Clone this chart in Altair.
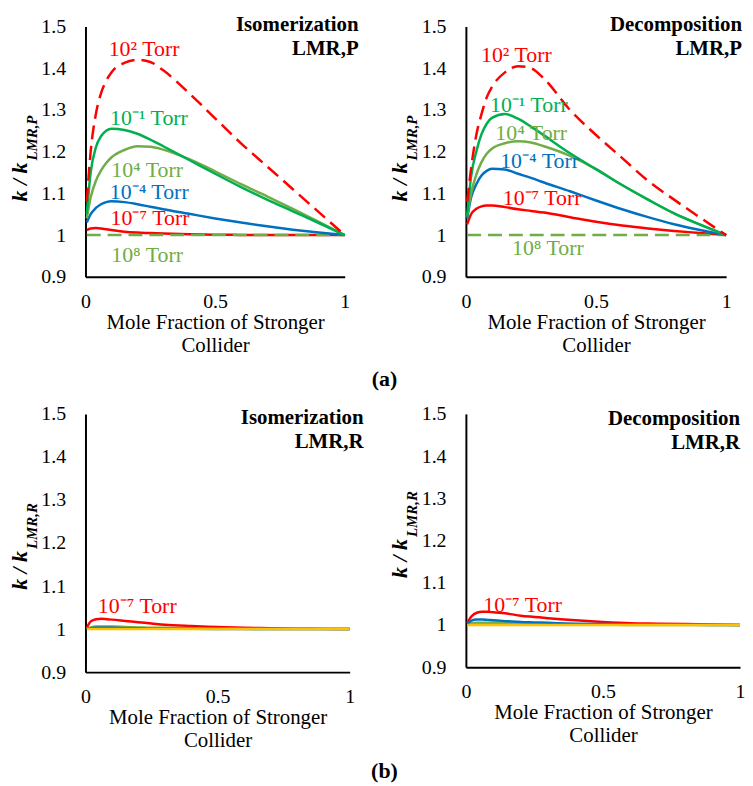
import altair as alt
import pandas as pd

FONT = "Liberation Serif, Times New Roman, serif"
RED = "#FF0000"
GREEN = "#00B050"
OLIVE = "#70AD47"
BLUE = "#0070C0"
YELLOW = "#FFC000"

# Mole fraction of stronger collider (sample points)
X = [0.005, 0.02, 0.04, 0.06, 0.08, 0.1, 0.15, 0.2, 0.25, 0.3, 0.4, 0.5, 0.6, 0.7, 0.8, 0.9, 1.0]

# (a) Isomerization, LMR,P
iso_p_1e2 = [1.08, 1.20, 1.29, 1.34, 1.37, 1.39, 1.413, 1.42, 1.415, 1.395, 1.34, 1.28, 1.22, 1.165, 1.11, 1.055, 1.0]
iso_p_1em1 = [1.05, 1.15, 1.21, 1.237, 1.25, 1.255, 1.252, 1.243, 1.229, 1.213, 1.18, 1.147, 1.115, 1.085, 1.057, 1.029, 1.0]
iso_p_1e4 = [1.04, 1.09, 1.13, 1.155, 1.173, 1.186, 1.204, 1.213, 1.212, 1.205, 1.182, 1.153, 1.122, 1.093, 1.063, 1.032, 1.0]
iso_p_1em4 = [1.03, 1.05, 1.065, 1.074, 1.079, 1.081, 1.079, 1.074, 1.068, 1.062, 1.051, 1.04, 1.03, 1.021, 1.013, 1.006, 1.0]
iso_p_1em7 = [1.012, 1.016, 1.017, 1.016, 1.014, 1.012, 1.008, 1.006, 1.005, 1.004, 1.002, 1.001, 1.0005, 1.0, 1.0, 1.0, 1.0]
iso_p_1e8 = [1.0] * 17

# (a) Decomposition, LMR,P
dec_p_1e2 = [1.08, 1.16, 1.24, 1.29, 1.33, 1.355, 1.39, 1.405, 1.40, 1.375, 1.30, 1.24, 1.185, 1.13, 1.085, 1.042, 1.0]
dec_p_1em1 = [1.045, 1.14, 1.2, 1.242, 1.267, 1.281, 1.29, 1.279, 1.26, 1.239, 1.196, 1.158, 1.12, 1.085, 1.052, 1.025, 1.0]
dec_p_1e4 = [1.045, 1.1, 1.145, 1.175, 1.195, 1.207, 1.22, 1.225, 1.222, 1.213, 1.19, 1.158, 1.12, 1.085, 1.052, 1.025, 1.0]
dec_p_1em4 = [1.04, 1.09, 1.122, 1.143, 1.154, 1.159, 1.157, 1.147, 1.137, 1.126, 1.105, 1.083, 1.062, 1.043, 1.026, 1.012, 1.0]
dec_p_1em7 = [1.026, 1.05, 1.063, 1.069, 1.071, 1.071, 1.067, 1.062, 1.058, 1.054, 1.043, 1.032, 1.023, 1.016, 1.01, 1.005, 1.0]
dec_p_1e8 = [1.0] * 17

# (b) Isomerization, LMR,R
iso_r_red = [1.003, 1.018, 1.023, 1.024, 1.023, 1.022, 1.019, 1.016, 1.013, 1.01, 1.007, 1.005, 1.003, 1.002, 1.001, 1.0005, 1.0]
iso_r_green = [1.001, 1.004, 1.006, 1.006, 1.006, 1.006, 1.005, 1.004, 1.003, 1.003, 1.002, 1.001, 1.0005, 1.0, 1.0, 1.0, 1.0]
iso_r_blue = [1.001, 1.002, 1.003, 1.003, 1.003, 1.003, 1.002, 1.002, 1.001, 1.001, 1.0005, 1.0, 1.0, 1.0, 1.0, 1.0, 1.0]
iso_r_yellow = [1.0] * 17

# (b) Decomposition, LMR,R
dec_r_red = [1.005, 1.02, 1.029, 1.031, 1.031, 1.03, 1.027, 1.022, 1.019, 1.016, 1.011, 1.007, 1.004, 1.003, 1.002, 1.001, 1.0]
dec_r_blue = [1.003, 1.01, 1.013, 1.013, 1.012, 1.011, 1.009, 1.007, 1.006, 1.005, 1.003, 1.002, 1.0015, 1.001, 1.0005, 1.0, 1.0]
dec_r_green = [1.001, 1.004, 1.005, 1.005, 1.005, 1.005, 1.004, 1.003, 1.003, 1.002, 1.001, 1.001, 1.0, 1.0, 1.0, 1.0, 1.0]
dec_r_yellow = [1.0] * 17

# Curve labels
P_LABELS = ["10² Torr", "10⁻¹ Torr", "10⁴ Torr", "10⁻⁴ Torr", "10⁻⁷ Torr", "10⁸ Torr"]
P_LABEL_COLORS = [RED, GREEN, OLIVE, BLUE, RED, OLIVE]
iso_p_label_x = [0.226, 0.245, 0.238, 0.246, 0.249, 0.238]
iso_p_label_y = [1.445, 1.281, 1.157, 1.102, 1.040, 0.952]
dec_p_label_x = [0.194, 0.242, 0.251, 0.283, 0.293, 0.315]
dec_p_label_y = [1.432, 1.312, 1.244, 1.178, 1.088, 0.968]
R_LABELS = ["10⁻⁷ Torr"]
R_LABEL_COLORS = [RED]
iso_r_label_x = [0.196]
iso_r_label_y = [1.053]
dec_r_label_x = [0.207]
dec_r_label_y = [1.046]

X_TICKS = [0, 0.5, 1]
Y_TICKS = [0.9, 1.0, 1.1, 1.2, 1.3, 1.4, 1.5]
X_TITLE = ["Mole Fraction of Stronger", "Collider"]


def enc_x():
    return alt.X("x:Q", scale=alt.Scale(domain=[0, 1], nice=False),
                 axis=alt.Axis(values=X_TICKS, format="~g", title=X_TITLE))


def enc_y():
    return alt.Y("y:Q", scale=alt.Scale(domain=[0.9, 1.5], nice=False, zero=False),
                 axis=alt.Axis(values=Y_TICKS, format=".1~f", title=None))


def panel(series, lab_text, lab_colors, lab_x, lab_y, title1, title2, sub,
          w, h, t_x, t_y, yt_end, extra=None, extra_y=355):
    layers = []
    for vals, color, dashed in series:
        df = pd.DataFrame({"x": X, "y": vals})
        kw = dict(color=color, strokeWidth=2.5, interpolate="monotone")
        if dashed:
            kw["strokeDash"] = [14, 7]
        layers.append(alt.Chart(df).mark_line(**kw).encode(x=enc_x(), y=enc_y()))
    ldf = pd.DataFrame({"x": lab_x, "y": lab_y, "t": lab_text, "c": lab_colors})
    layers.append(alt.Chart(ldf).mark_text(font=FONT, fontSize=22, align="center",
                                           baseline="middle").encode(
        x=enc_x(), y=enc_y(), text="t:N", color=alt.Color("c:N", scale=None)))
    tdf = pd.DataFrame({"t": [title1]})
    layers.append(alt.Chart(tdf).mark_text(font=FONT, fontSize=21, fontWeight="bold",
                                           align="right", baseline="middle", color="black").encode(
        x=alt.value(t_x), y=alt.value(t_y), text="t:N"))
    tdf2 = pd.DataFrame({"t": [title2]})
    layers.append(alt.Chart(tdf2).mark_text(font=FONT, fontSize=21, fontWeight="bold",
                                            align="right", baseline="middle", color="black").encode(
        x=alt.value(t_x), y=alt.value(t_y + 24), text="t:N"))
    # y-axis title: k / k_{LMR,x}
    ydf = pd.DataFrame({"t": ["k / k"]})
    layers.append(alt.Chart(ydf).mark_text(font=FONT, fontSize=22, fontWeight="bold",
                                           fontStyle="italic", angle=270, align="right",
                                           baseline="middle", color="black").encode(
        x=alt.value(-66), y=alt.value(yt_end), text="t:N"))
    sdf = pd.DataFrame({"t": [sub]})
    layers.append(alt.Chart(sdf).mark_text(font=FONT, fontSize=15, fontWeight="bold",
                                           fontStyle="italic", angle=270, align="left",
                                           baseline="middle", color="black").encode(
        x=alt.value(-54), y=alt.value(yt_end - 2), text="t:N"))
    if extra is not None:
        edf = pd.DataFrame({"t": [extra]})
        layers.append(alt.Chart(edf).mark_text(font=FONT, fontSize=22, fontWeight="bold",
                                               align="center", baseline="middle",
                                               color="black").encode(
            x=alt.value(301), y=alt.value(extra_y), text="t:N"))
    return alt.layer(*layers).properties(width=w, height=h)


p1 = panel([(iso_p_1em7, RED, False), (iso_p_1e8, OLIVE, True), (iso_p_1em4, BLUE, False),
            (iso_p_1e4, OLIVE, False), (iso_p_1em1, GREEN, False), (iso_p_1e2, RED, True)],
           P_LABELS, P_LABEL_COLORS, iso_p_label_x, iso_p_label_y,
           "Isomerization", "LMR,P", "LMR,P", 261, 252, 275, -1, 137, extra="(a)", extra_y=355)
p2 = panel([(dec_p_1em7, RED, False), (dec_p_1e8, OLIVE, True), (dec_p_1em4, BLUE, False),
            (dec_p_1e4, OLIVE, False), (dec_p_1em1, GREEN, False), (dec_p_1e2, RED, True)],
           P_LABELS, P_LABEL_COLORS, dec_p_label_x, dec_p_label_y,
           "Decomposition", "LMR,P", "LMR,P", 262, 252, 278, -1, 137)
p3 = panel([(iso_r_red, RED, False), (iso_r_green, OLIVE, False), (iso_r_blue, BLUE, False),
            (iso_r_yellow, YELLOW, False)],
           R_LABELS, R_LABEL_COLORS, iso_r_label_x, iso_r_label_y,
           "Isomerization", "LMR,R", "LMR,R", 266, 260, 280, 4, 138, extra="(b)", extra_y=360)
p4 = panel([(dec_r_red, RED, False), (dec_r_green, OLIVE, False), (dec_r_blue, BLUE, False),
            (dec_r_yellow, YELLOW, False)],
           R_LABELS, R_LABEL_COLORS, dec_r_label_x, dec_r_label_y,
           "Decomposition", "LMR,R", "LMR,R", 276, 255, 276, 5, 126)

chart = alt.concat(p1, p2, p3, p4, columns=2, spacing={"row": 138, "column": 117},
                   bounds="flush").properties(
    padding={"left": 1, "top": 4, "right": 0, "bottom": 0}
).configure_view(strokeWidth=0).configure_axis(
    domainColor="black", domainWidth=2, ticks=False, tickSize=0, grid=False,
    labelFont=FONT, labelFontSize=20, labelColor="black", labelFlush=False,
    titleFont=FONT, titleFontSize=21, titleColor="black", titleFontWeight="normal",
).configure_axisX(labelPadding=15, titlePadding=0, titleLineHeight=23
).configure_axisY(labelPadding=20)

chart.save("out.html", embed_options={"renderer": "svg", "actions": False})
